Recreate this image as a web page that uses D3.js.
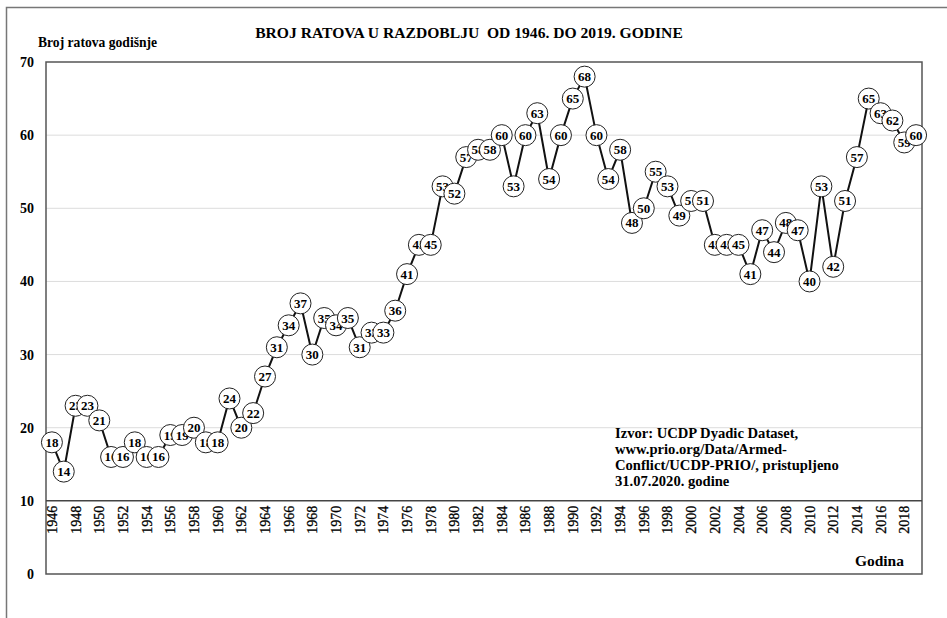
<!DOCTYPE html>
<html>
<head>
<meta charset="utf-8">
<script src="https://cdn.jsdelivr.net/npm/d3@7"></script>
<style>
  body { margin: 0; background: #fff; }
  svg { display: block; font-family: "Liberation Serif", "Times New Roman", serif; }
</style>
</head>
<body>
<div id="main"></div>
<script>
// wars per year, 1946 - 2019
const years = d3.range(1946, 2020);
const wars = [18, 14, 23, 23, 21, 16, 16, 18, 16, 16, 19, 19, 20, 18, 18, 24, 20, 22, 27, 31,
    34, 37, 30, 35, 34, 35, 31, 33, 33, 36, 41, 45, 45, 53, 52, 57, 58, 58, 60, 53,
    60, 63, 54, 60, 65, 68, 60, 54, 58, 48, 50, 55, 53, 49, 51, 51, 45, 45, 45, 41,
    47, 44, 48, 47, 40, 53, 42, 51, 57, 65, 63, 62, 59, 60];
const yTicks = [0, 10, 20, 30, 40, 50, 60, 70];
const xTickYears = years.filter(y => y % 2 === 0);

const titleText = 'BROJ RATOVA U RAZDOBLJU\u00a0 OD 1946. DO 2019. GODINE';
const yTitle = 'Broj ratova godišnje';
const xTitle = 'Godina';
const sourceLines = ['Izvor: UCDP Dyadic Dataset,', 'www.prio.org/Data/Armed-',
    'Conflict/UCDP-PRIO/, pristupljeno', '31.07.2020. godine'];

const w = 947;
const h = 618;
const pLeft = 46, pRight = 922, pTop = 62, pBottom = 574;

const data = years.map((y, i) => ({year: y, value: wars[i]}));

const svg = d3.select('#main')
    .append('svg')
    .attr('width', w)
    .attr('height', h);

// outer frame
svg.append('rect')
    .attr('x', 6.5)
    .attr('y', 7.5)
    .attr('width', 1000)
    .attr('height', 700)
    .attr('fill', 'none')
    .attr('stroke', '#777')
    .attr('stroke-width', 1.5);

const x = d3.scaleBand()
    .domain(years)
    .range([pLeft, pRight]);

const y = d3.scaleLinear()
    .domain([0, 70])
    .range([pBottom, pTop]);

// grid lines
svg.append('g')
    .selectAll('line')
    .data([20, 30, 40, 50, 60])
    .enter()
    .append('line')
    .attr('x1', pLeft)
    .attr('x2', pRight)
    .attr('y1', d => y(d))
    .attr('y2', d => y(d))
    .attr('stroke', '#dcdcdc')
    .attr('stroke-width', 1);

// plot frame
svg.append('rect')
    .attr('x', pLeft)
    .attr('y', pTop)
    .attr('width', pRight - pLeft)
    .attr('height', pBottom - pTop)
    .attr('fill', 'none')
    .attr('stroke', '#555')
    .attr('stroke-width', 1.5);

// category axis sits at 10
svg.append('line')
    .attr('x1', pLeft)
    .attr('x2', pRight)
    .attr('y1', y(10))
    .attr('y2', y(10))
    .attr('stroke', '#444')
    .attr('stroke-width', 1.5);

// y tick labels
svg.append('g')
    .selectAll('text')
    .data(yTicks)
    .enter()
    .append('text')
    .attr('x', 34)
    .attr('y', d => y(d) + 5)
    .attr('text-anchor', 'end')
    .style('font-size', '14px')
    .style('font-weight', 'bold')
    .text(d => d);

// x tick labels (rotated)
svg.append('g')
    .selectAll('text')
    .data(xTickYears)
    .enter()
    .append('text')
    .attr('transform', d => `translate(${x(d) + x.bandwidth() / 2 + 5}, ${y(10) + 5}) rotate(-90)`)
    .attr('text-anchor', 'end')
    .style('font-size', '14px')
    .style('stroke', '#000')
    .style('stroke-width', 0.3)
    .text(d => d);

// line
const line = d3.line()
    .x(d => x(d.year) + x.bandwidth() / 2)
    .y(d => y(d.value));

svg.append('path')
    .datum(data)
    .attr('d', line)
    .attr('fill', 'none')
    .attr('stroke', '#111')
    .attr('stroke-width', 2);

// markers with labels
const mark = svg.append('g')
    .selectAll('g')
    .data(data)
    .enter()
    .append('g')
    .attr('transform', d => `translate(${x(d.year) + x.bandwidth() / 2}, ${y(d.value)})`);

mark.append('circle')
    .attr('r', 10.5)
    .attr('fill', '#fff')
    .attr('stroke', '#222')
    .attr('stroke-width', 1);

mark.append('text')
    .attr('y', 4.5)
    .attr('text-anchor', 'middle')
    .style('font-size', '13px')
    .style('font-weight', 'bold')
    .text(d => d.value);

// titles
svg.append('text')
    .attr('x', 469)
    .attr('y', 38)
    .attr('text-anchor', 'middle')
    .style('font-size', '15.6px')
    .style('font-weight', 'bold')
    .text(titleText);

svg.append('text')
    .attr('x', 38)
    .attr('y', 47)
    .style('font-size', '13.6px')
    .style('font-weight', 'bold')
    .text(yTitle);

svg.append('text')
    .attr('x', 904)
    .attr('y', 566)
    .attr('text-anchor', 'end')
    .style('font-size', '15.5px')
    .style('font-weight', 'bold')
    .text(xTitle);

// source note
svg.append('text')
    .selectAll('tspan')
    .data(sourceLines)
    .enter()
    .append('tspan')
    .attr('x', 615)
    .attr('y', (d, i) => 438 + i * 16)
    .style('font-size', '14.6px')
    .style('font-weight', 'bold')
    .text(d => d);
</script>
</body>
</html>
